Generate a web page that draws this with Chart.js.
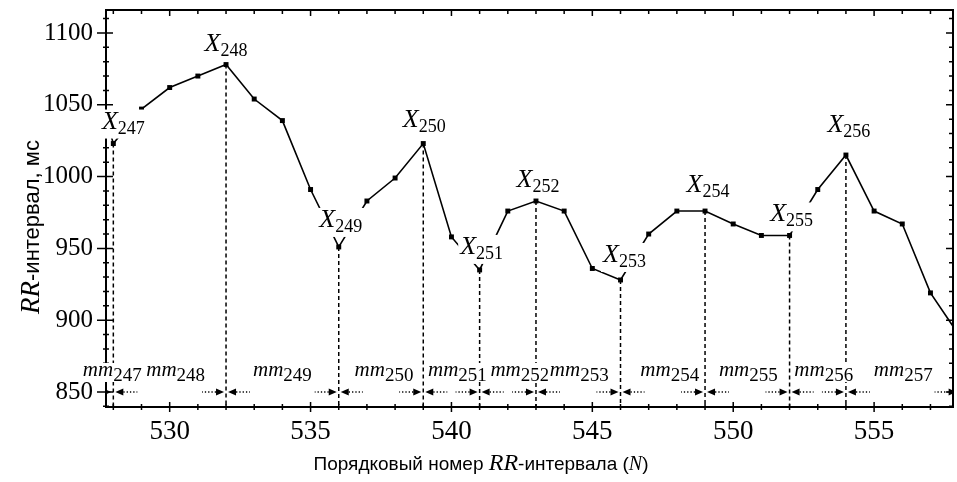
<!DOCTYPE html>
<html lang="ru">
<head>
<meta charset="utf-8">
<script src="https://cdn.jsdelivr.net/npm/chart.js@4.4.1/dist/chart.umd.min.js"></script>
<style>
  html, body { margin: 0; padding: 0; background: #fff; }
  #wrap { width: 957px; height: 482px; position: relative; }
</style>
</head>
<body>
<div id="wrap"><canvas id="rr_chart"></canvas></div>
<script>
// порядковый номер RR-интервала и его длительность, мс
const beatNo = [527, 528, 529, 530, 531, 532, 533, 534, 535, 536, 537, 538, 539, 540, 541, 542,
                543, 544, 545, 546, 547, 548, 549, 550, 551, 552, 553, 554, 555, 556, 557, 558]
const rrMs = [1090, 1023, 1047, 1062, 1070, 1078, 1054, 1039, 991, 951, 983, 999, 1023, 958, 935, 976,
              983, 976, 936, 928, 960, 976, 976, 967, 959, 959, 991, 1015, 976, 967, 919, 890]

// экстремумы X_247 ... X_256
const extremaNo = [528, 532, 536, 539, 541, 543, 546, 549, 552, 554]
const extremaSub = ['247', '248', '249', '250', '251', '252', '253', '254', '255', '256']

// интервалы mm_247 ... mm_257 между экстремумами
const mmBounds = [527, 528, 532, 536, 539, 541, 543, 546, 549, 552, 554, 558]
const mmSub = ['247', '248', '249', '250', '251', '252', '253', '254', '255', '256', '257']

const xTicks = [530, 535, 540, 545, 550, 555]
const yTicks = [850, 900, 950, 1000, 1050, 1100]

// placement tweaks for the annotation labels (px)
const xLabelLift = [15, 14, 20, 17, 16, 14, 18, 19, 14, 23]
const xLabelShift = [10, 0, 2, 1, 2, 2, 4, 3, 2, 3]
const mmLabelShift = [13, 6, 0, 3, 6, 12, 1, 7, 1, 6, 1]

const SERIF = '"Liberation Serif", "Times New Roman", serif'
const SANS = '"Liberation Sans", Arial, sans-serif'

function subLabel(ctx, main, sub, cx, base, mainFont, subFont, drop, boxTop, boxBottom) {
    ctx.font = mainFont
    const w1 = ctx.measureText(main).width
    ctx.font = subFont
    const w2 = ctx.measureText(sub).width
    const x0 = cx - (w1 + w2) / 2
    ctx.fillStyle = '#fff'
    ctx.fillRect(x0 - 2, base - boxTop, w1 + w2 + 4, boxTop + boxBottom)
    ctx.fillStyle = '#000'
    ctx.textAlign = 'left'
    ctx.textBaseline = 'alphabetic'
    ctx.font = mainFont
    ctx.fillText(main, x0, base)
    ctx.font = subFont
    ctx.fillText(sub, x0 + w1, base + drop)
}

function mixedText(ctx, parts, cx, base) {
    let total = 0
    parts.forEach(p => { ctx.font = p[1]; total += ctx.measureText(p[0]).width })
    let x = cx - total / 2
    ctx.fillStyle = '#000'
    ctx.textAlign = 'left'
    ctx.textBaseline = 'alphabetic'
    parts.forEach(p => {
        ctx.font = p[1]
        ctx.fillText(p[0], x, base)
        x += ctx.measureText(p[0]).width
    })
}

const frame = {
    id: 'frame',
    beforeDatasetsDraw(chart) {
        const {ctx, chartArea: a, scales: {x, y}} = chart
        ctx.save()
        ctx.strokeStyle = '#000'
        ctx.lineWidth = 2
        ctx.strokeRect(a.left, a.top, a.right - a.left, a.bottom - a.top)

        // tick marks, minor every 1 / every 10 ms
        ctx.lineWidth = 1.5
        ctx.beginPath()
        for (let n = Math.ceil(x.min); n <= x.max; n++) {
            const px = x.getPixelForValue(n)
            const big = n % 5 === 0
            ctx.moveTo(px, a.bottom - (big ? 5 : 3))
            ctx.lineTo(px, a.bottom + (big ? 5 : 3))
            ctx.moveTo(px, a.top)
            ctx.lineTo(px, a.top + (big ? 6 : 4))
        }
        for (let v = Math.ceil(y.min / 10) * 10; v <= y.max; v += 10) {
            const py = y.getPixelForValue(v)
            const big = v % 50 === 0
            ctx.moveTo(a.left - (big ? 9 : 3), py)
            ctx.lineTo(a.left + (big ? 7 : 3), py)
            ctx.moveTo(a.right, py)
            ctx.lineTo(a.right - (big ? 7 : 4), py)
        }
        ctx.stroke()

        ctx.beginPath()
        ctx.rect(a.left, a.top, a.right - a.left, a.bottom - a.top)
        ctx.clip()

        // dashed drop lines from the extrema
        ctx.setLineDash([4, 3])
        ctx.lineWidth = 1.5
        ctx.beginPath()
        extremaNo.forEach(n => {
            const px = x.getPixelForValue(n)
            ctx.moveTo(px, y.getPixelForValue(rrMs[beatNo.indexOf(n)]))
            ctx.lineTo(px, a.bottom)
        })
        ctx.stroke()

        // dotted double arrows for mm intervals
        const y0 = y.getPixelForValue(850)
        for (let i = 0; i < mmSub.length; i++) {
            const xl = x.getPixelForValue(mmBounds[i])
            const xr = x.getPixelForValue(mmBounds[i + 1])
            const half = Math.min(24, (xr - xl - 6) / 2)
            ctx.fillStyle = '#000'
            ctx.beginPath()
            ctx.moveTo(xl + 2, y0); ctx.lineTo(xl + 10, y0 - 3.5); ctx.lineTo(xl + 10, y0 + 3.5)
            ctx.closePath()
            ctx.moveTo(xr - 2, y0); ctx.lineTo(xr - 10, y0 - 3.5); ctx.lineTo(xr - 10, y0 + 3.5)
            ctx.closePath()
            ctx.fill()
            ctx.setLineDash([1.3, 2])
            ctx.lineWidth = 1.3
            ctx.beginPath()
            ctx.moveTo(xl + 10, y0); ctx.lineTo(xl + half, y0)
            ctx.moveTo(xr - 10, y0); ctx.lineTo(xr - half, y0)
            ctx.stroke()
        }
        ctx.restore()
    },
    afterDatasetsDraw(chart) {
        const {ctx, scales: {x, y}} = chart
        ctx.save()
        extremaNo.forEach((n, i) => {
            const px = x.getPixelForValue(n) + xLabelShift[i]
            const py = y.getPixelForValue(rrMs[beatNo.indexOf(n)]) - xLabelLift[i]
            subLabel(ctx, 'X', extremaSub[i], px, py, 'italic 26px ' + SERIF, '18px ' + SERIF, 5, 19, 10)
        })
        const y0 = y.getPixelForValue(850)
        mmSub.forEach((s, i) => {
            const mid = x.getPixelForValue((mmBounds[i] + mmBounds[i + 1]) / 2) + mmLabelShift[i]
            subLabel(ctx, 'mm', s, mid, y0 - 16, 'italic 21px ' + SERIF, '19px ' + SERIF, 5, 13, 6)
        })

        // axis titles
        mixedText(ctx, [
            ['Порядковый номер ', '19px ' + SANS],
            ['RR', 'italic 24px ' + SERIF],
            ['-интервала (', '19px ' + SANS],
            ['N', 'italic 20px ' + SERIF],
            [')', '19px ' + SANS]
        ], 481, 470)
        ctx.translate(39, 227)
        ctx.rotate(-Math.PI / 2)
        mixedText(ctx, [
            ['RR', 'italic 27px ' + SERIF],
            ['-интервал, мс', '22px ' + SANS]
        ], 0, 0)
        ctx.restore()
    }
}

const config = {
    type: 'line',
    data: {
        datasets: [{
            data: beatNo.map((n, i) => ({x: n, y: rrMs[i]})),
            borderColor: '#000',
            borderWidth: 1.6,
            pointStyle: 'rect',
            pointRadius: 3.5,
            pointBackgroundColor: '#000',
            pointBorderWidth: 0,
            tension: 0
        }]
    },
    options: {
        responsive: true,
        maintainAspectRatio: false,
        animation: false,
        layout: {padding: {left: 30, top: 10, right: 1, bottom: 24.6}},
        plugins: {
            legend: {display: false},
            tooltip: {enabled: false}
        },
        scales: {
            x: {
                type: 'linear',
                min: 527.74,
                max: 557.8,
                afterBuildTicks: s => { s.ticks = xTicks.map(v => ({value: v})) },
                grid: {display: false, drawTicks: false},
                border: {display: false},
                ticks: {
                    font: {family: SERIF, size: 27},
                    color: '#000',
                    padding: 9,
                    maxRotation: 0,
                    autoSkip: false,
                    callback: v => String(v)
                }
            },
            y: {
                min: 839.55,
                max: 1116,
                afterBuildTicks: s => { s.ticks = yTicks.map(v => ({value: v})) },
                afterFit: s => { s.paddingTop = 0; s.paddingBottom = 0 },
                grid: {display: false, drawTicks: false},
                border: {display: false},
                ticks: {
                    font: {family: SERIF, size: 25},
                    color: '#000',
                    padding: 13,
                    autoSkip: false,
                    callback: v => String(v)
                }
            }
        }
    },
    plugins: [frame]
}

const rr_chart = new Chart(document.getElementById('rr_chart'), config)
</script>
</body>
</html>
